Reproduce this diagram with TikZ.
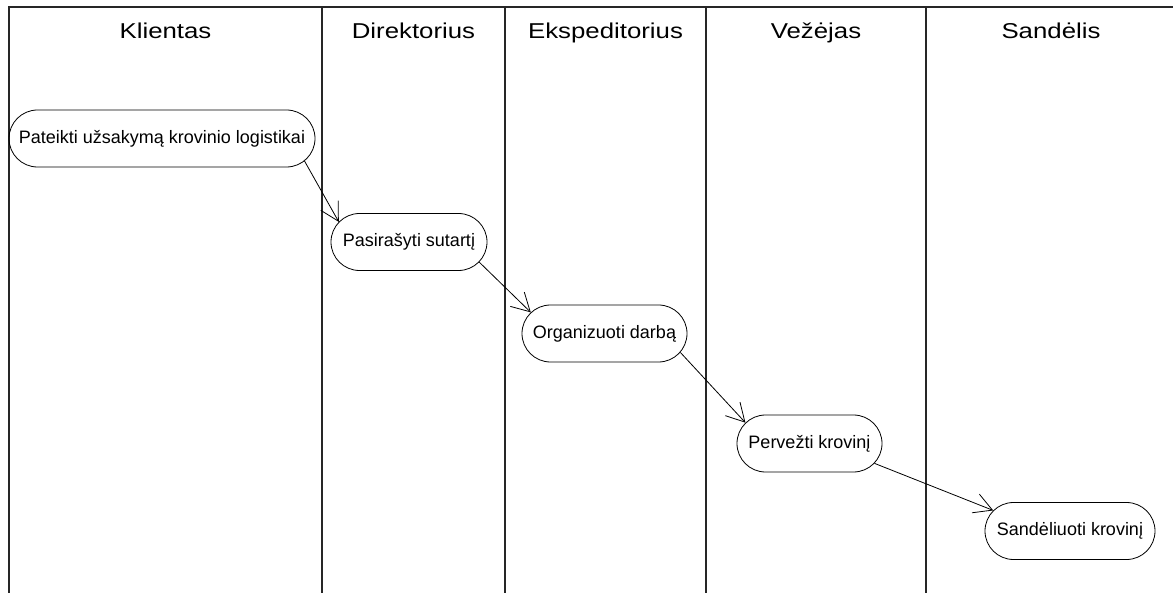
\documentclass[tikz,border=0pt]{standalone}
\usepackage{fontspec}
\setmainfont{Liberation Sans}
\newfontfamily\headfont[FakeStretch=1.2]{Liberation Sans}
\usetikzlibrary{shapes.misc,arrows.meta}
\tikzset{
  lane/.style={line width=1.6pt, draw=black!85},
  lanehead/.style={anchor=base, font=\headfont\fontsize{21.5pt}{24pt}\selectfont, inner sep=0pt},
  act/.style={rounded rectangle, draw, line width=0.8pt, inner sep=0pt,
              minimum height=57pt, font=\fontsize{18pt}{21pt}\selectfont},
  flow/.style={line width=0.8pt, -{Straight Barb[length=18pt,width=20pt,line width=0.8pt]}}
}
\begin{document}
\begin{tikzpicture}[x=1pt,y=-1pt]
\useasboundingbox (0,0) rectangle (1173,593);
% swimlanes
\draw[lane] (9,593) -- (9,7) -- (1173,7);
\foreach \lx in {322,505,706,926} { \draw[lane] (\lx,7) -- (\lx,593); }
\node[lanehead] (h1) at (165.5,38.3) {Klientas};
\node[lanehead] (h2) at (413.5,38.3) {Direktorius};
\node[lanehead] (h3) at (605.5,38.3) {Ekspeditorius};
\node[lanehead] (h4) at (816,38.3) {Vežėjas};
\node[lanehead] (h5) at (1051,38.3) {Sandėlis};
% activities
\node[act, minimum width=306pt] (n1) at (162,138.5) {Pateikti užsakymą krovinio logistikai};
\node[act, minimum width=156pt] (n2) at (409,242) {Pasirašyti sutartį};
\node[act, minimum width=165pt] (n3) at (604.5,333.5) {Organizuoti darbą};
\node[act, minimum width=145pt] (n4) at (809.5,443.5) {Pervežti krovinį};
\node[act, minimum width=170pt] (n5) at (1070,531) {Sandėliuoti krovinį};
% flows
\draw[flow] (n1.-9.5) -- (n2.164.4);
\draw[flow] (n2.-16.9) -- (n3.164.4);
\draw[flow] (n3.-14.1) -- (n4.162.4);
\draw[flow] (n4.-17) -- (n5.165.4);
\end{tikzpicture}
\end{document}
